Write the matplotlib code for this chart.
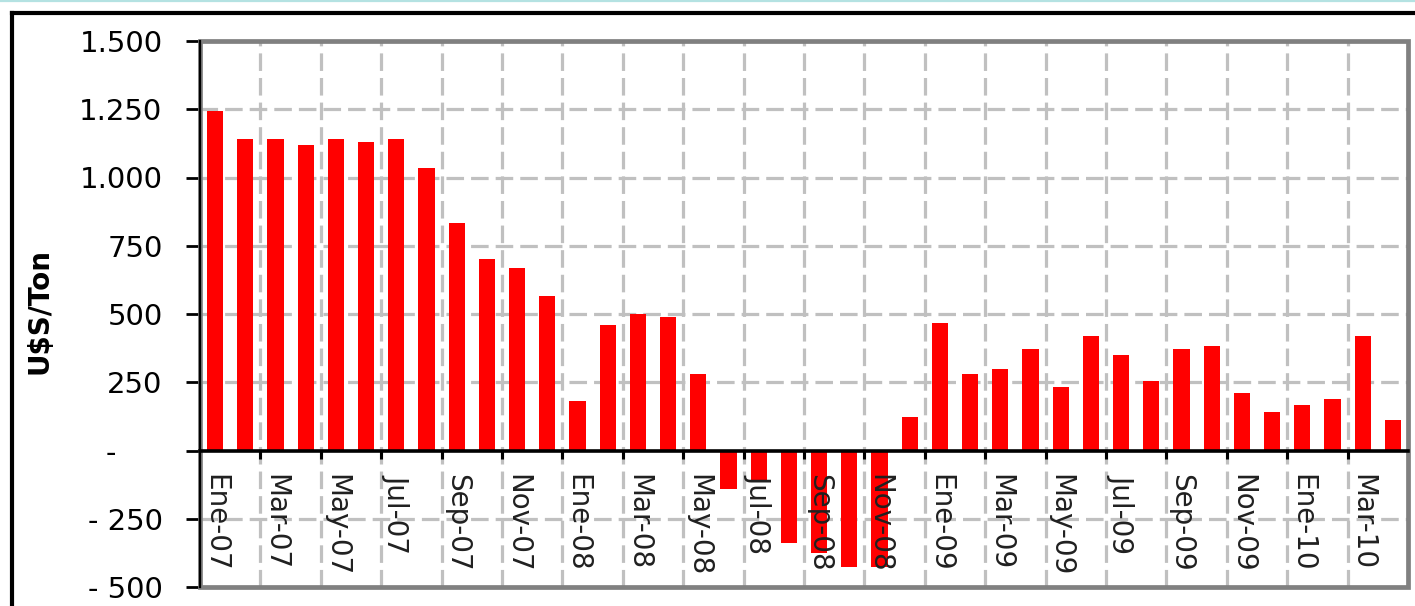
import matplotlib.pyplot as plt
from matplotlib.lines import Line2D
from matplotlib.patches import Rectangle
from matplotlib.ticker import FixedLocator

# monthly margin, U$S/Ton, Ene-07 .. Abr-10
months = ["Ene", "Feb", "Mar", "Abr", "May", "Jun", "Jul", "Ago", "Sep", "Oct", "Nov", "Dic"]
years = ["07", "08", "09", "10"]
categories = [f"{m}-{y}" for y in years for m in months][:40]
values = [1245, 1140, 1140, 1120, 1140, 1130, 1140, 1035, 832, 700, 668, 567,
          182, 458, 500, 490, 280, -141, -108, -337, -377, -428, -425, 122,
          467, 280, 297, 372, 233, 418, 349, 254, 372, 383, 211, 142,
          167, 189, 418, 110]
y_ticks = [-500, -250, 0, 250, 500, 750, 1000, 1250, 1500]
y_labels = ["- 500", "- 250", "-     ", "250", "500", "750", "1.000", "1.250", "1.500"]

fig = plt.figure(figsize=(14.15, 6.06), dpi=100)
ax = fig.add_axes([200 / 1415, 1 - 587 / 606, 1208 / 1415, 546 / 606])

x = list(range(len(values)))
ax.bar(x, values, width=0.53, color="#ff0000", zorder=1)

ax.set_xlim(-0.5, len(values) - 0.5)
ax.set_ylim(-500, 1500)

# grid drawn by hand so it stays under the bars while labels stay on top
grid_style = dict(color="#c0c0c0", linewidth=2.3, linestyle=(0, (5.5, 2.2)), zorder=0)
for yv in y_ticks[1:-1]:
    if yv != 0:
        ax.axhline(yv, **grid_style)
boundaries = [i + 1.5 for i in range(0, len(values) - 2, 2)]
for xv in boundaries:
    ax.axvline(xv, **grid_style)

ax.set_yticks(y_ticks)
ax.set_yticklabels(y_labels, fontsize=21)
ax.tick_params(axis="y", length=10, width=2, color="black", pad=17)

ax.spines["bottom"].set_position(("data", 0))
ax.spines["bottom"].set_color("black")
ax.spines["bottom"].set_linewidth(2.6)
ax.spines["bottom"].set_zorder(3)
ax.spines["left"].set_color("black")
ax.spines["left"].set_linewidth(1.6)
ax.spines["left"].set_zorder(4)
ax.spines["top"].set_visible(False)
ax.spines["right"].set_visible(False)

ax.xaxis.set_major_locator(FixedLocator(boundaries + [len(values) - 0.5]))
ax.xaxis.set_major_formatter(plt.NullFormatter())
ax.xaxis.set_minor_locator(FixedLocator(x[::2]))
ax.set_xticklabels(categories[::2], minor=True, rotation=-90, fontsize=20, color="#202020")
ax.tick_params(axis="x", which="major", length=6, width=2.2, color="black", direction="out")
ax.tick_params(axis="x", which="minor", length=0, pad=17)
for lab in ax.get_xticklabels(minor=True):
    lab.set_verticalalignment("top")
    lab.set_zorder(5)

# plot area border
ax.add_patch(Rectangle((0, 0), 1, 1, transform=ax.transAxes, fill=False,
                       edgecolor="#808080", linewidth=3.4, clip_on=False, zorder=2))

fig.text(39 / 1415, 1 - 311 / 606, r"U\$S/Ton", rotation=90, ha="center", va="center",
         fontsize=20, fontweight="bold")

# outer chart frame
fig.add_artist(Line2D([12 / 1415, 12 / 1415], [0, 1 - 13 / 606], color="black", linewidth=3))
fig.add_artist(Line2D([12 / 1415, 1], [1 - 13 / 606, 1 - 13 / 606], color="black", linewidth=3))
fig.add_artist(Line2D([0, 1], [1 - 0.8 / 606, 1 - 0.8 / 606], color="#b4e2e2", linewidth=1.6))

fig.savefig("out.png", dpi=100)
